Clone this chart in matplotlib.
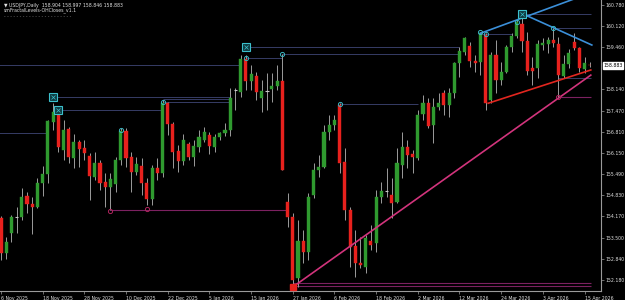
import matplotlib
matplotlib.use("Agg")
import matplotlib.pyplot as plt
import matplotlib.transforms as mtransforms
import numpy as np
import pandas as pd

# --- Daily bars USDJPY (market closed on 25 Dec and 1 Jan) ---
dates = pd.bdate_range("2025-11-06", "2026-04-16")
dates = dates[~dates.isin(pd.to_datetime(["2025-12-25", "2026-01-01"]))]

opens = [154.115, 153.011, 153.646, 154.146, 154.146, 154.802, 154.552, 154.458, 155.208, 155.490,
         157.115, 157.396, 156.240, 156.896, 155.990, 156.490, 156.302, 156.052, 155.396, 155.833,
         155.240, 155.083, 155.177, 155.927, 156.833, 156.021, 155.552, 155.740, 155.208, 154.708,
         155.677, 155.521, 157.708, 157.052, 156.208, 155.896, 156.427, 156.021, 156.333, 156.552,
         156.708, 156.333, 156.646, 156.771, 156.865, 158.115, 158.052, 159.083, 158.396, 158.552,
         157.865, 158.083, 158.146, 158.240, 158.396, 154.624, 154.146, 152.240, 153.396, 153.052,
         154.833, 155.615, 155.708, 156.802, 157.021, 157.646, 155.865, 154.365, 153.240, 152.708,
         152.583, 153.396, 153.333, 154.771, 154.958, 154.833, 154.615, 155.771, 156.333, 156.115,
         155.990, 157.365, 157.708, 157.021, 157.583, 158.021, 157.646, 158.021, 158.958, 159.302,
         159.490, 159.021, 158.990, 159.833, 157.802, 159.208, 158.427, 158.677, 159.458, 159.802,
         160.177, 159.646, 158.802, 158.802, 159.521, 159.552, 159.677, 159.552, 158.552, 158.927,
         159.615, 159.427, 158.771, 158.904]
highs = [154.177, 153.521, 154.208, 154.458, 155.052, 154.927, 154.771, 155.365, 155.740, 157.177,
         157.708, 157.490, 157.177, 156.958, 156.740, 156.552, 156.552, 156.146, 156.177, 155.927,
         155.521, 155.521, 156.021, 156.927, 156.927, 156.177, 156.021, 155.990, 155.365, 155.771,
         155.990, 157.802, 157.740, 157.115, 156.396, 156.740, 156.490, 156.552, 156.865, 156.958,
         156.802, 156.740, 156.802, 157.083, 158.177, 158.177, 159.208, 159.208, 158.896, 158.677,
         158.427, 158.646, 158.646, 158.896, 159.240, 154.896, 154.271, 154.052, 153.740, 154.896,
         155.833, 156.083, 157.021, 157.333, 157.333, 157.708, 156.302, 154.458, 153.740, 153.521,
         153.583, 153.896, 154.990, 155.240, 155.677, 155.365, 156.302, 156.802, 156.552, 156.240,
         157.490, 157.958, 157.865, 157.865, 158.021, 158.115, 158.177, 158.990, 159.458, 159.771,
         159.615, 159.208, 159.927, 159.896, 159.302, 159.677, 158.990, 159.521, 159.896, 160.333,
         160.552, 159.927, 159.146, 159.677, 159.740, 159.771, 160.052, 159.771, 159.208, 159.396,
         159.896, 159.458, 159.146, 158.997]
lows = [152.802, 152.833, 153.365, 153.646, 154.052, 154.271, 153.615, 154.427, 154.802, 155.208,
        156.865, 156.177, 155.927, 155.833, 155.677, 155.708, 155.927, 154.677, 155.302, 154.990,
        154.458, 154.365, 154.927, 155.771, 155.708, 154.927, 155.458, 154.833, 154.521, 154.521,
        155.302, 155.396, 156.708, 155.677, 155.552, 155.771, 155.927, 155.740, 156.177, 156.490,
        156.115, 156.177, 156.552, 156.677, 156.677, 157.490, 157.896, 158.115, 158.115, 157.802,
        157.427, 157.490, 157.740, 158.115, 155.615, 153.833, 151.958, 151.958, 152.708, 152.802,
        154.740, 155.396, 155.677, 156.552, 156.865, 155.521, 154.052, 152.583, 152.271, 152.552,
        152.396, 153.115, 153.052, 154.583, 154.771, 154.115, 154.583, 155.365, 155.677, 155.521,
        155.927, 157.177, 156.927, 156.458, 157.490, 157.333, 157.271, 157.865, 158.521, 159.208,
        158.833, 158.677, 158.583, 157.490, 157.708, 158.021, 158.271, 158.646, 159.302, 159.740,
        159.302, 158.583, 158.271, 158.490, 159.365, 159.271, 159.458, 157.896, 158.490, 158.802,
        159.365, 158.677, 158.646, 158.846]
closes = [153.021, 153.374, 154.146, 154.146, 154.771, 154.552, 154.458, 155.208, 155.490, 157.146,
          157.427, 156.333, 156.865, 156.021, 156.490, 156.271, 156.146, 155.427, 155.833, 155.208,
          155.083, 155.333, 155.927, 156.833, 155.990, 155.552, 155.802, 155.208, 154.708, 155.677,
          155.521, 157.708, 157.052, 156.177, 155.896, 156.552, 156.021, 156.365, 156.646, 156.811,
          156.365, 156.646, 156.771, 156.865, 157.865, 158.115, 159.083, 158.396, 158.615, 158.052,
          158.083, 158.083, 158.240, 158.396, 155.615, 154.155, 152.177, 153.396, 153.052, 154.771,
          155.615, 155.708, 156.802, 157.021, 157.177, 155.833, 154.365, 153.208, 152.708, 152.646,
          153.490, 153.271, 154.771, 154.958, 154.958, 154.583, 155.833, 156.333, 156.083, 156.021,
          157.333, 157.708, 156.990, 157.583, 157.708, 157.646, 158.021, 158.958, 159.333, 159.740,
          159.021, 158.958, 159.896, 157.708, 159.208, 158.427, 158.677, 159.458, 159.802, 160.240,
          159.646, 158.708, 158.708, 159.552, 159.583, 159.677, 159.583, 158.583, 158.927, 159.271,
          159.427, 158.802, 158.958, 158.883]

# axis labels
tick_dates = ["2025-11-06", "2025-11-18", "2025-11-28", "2025-12-10", "2025-12-22", "2026-01-05",
              "2026-01-15", "2026-01-27", "2026-02-06", "2026-02-18", "2026-03-02", "2026-03-12",
              "2026-03-24", "2026-04-03", "2026-04-15"]
price_ticks = [152.180, 152.840, 153.500, 154.170, 154.830, 155.490, 156.150, 156.810,
               157.470, 158.140, 159.460, 160.120, 160.780]
last_price = 158.883

# indicator levels (price, first bar, last bar)
level_prices = [158.896, 156.770, 157.896, 157.820, 157.740, 157.490, 159.458, 159.115,
                159.240, 157.677, 160.490, 160.050, 159.865, 158.490]
level_from = [-1, -1, 10, 31, 31, 11, 47, 47, 54, 65, 100, 106, 92, 107]
level_to = [46, 9, 44, 44, 44, 31, 88, 54, 88, 80, 113.2, 113.2, 98, 113.2]

low_prices = [154.365, 152.083, 151.990, 157.896]
low_from = [21, 56, 56, 107]
low_to = [55, 113.2, 113.2, 113.2]

# trend lines
pink_x, pink_y = [56, 113.2], [151.958, 158.58]
red_x, red_y = [93.5, 113.2], [157.70, 158.74]
blue1_x, blue1_y = [92, 111], [159.885, 161.02]
blue2_x, blue2_y = [100.2, 113.4], [160.49, 159.52]

# fractal markers
box_x = [10, 11, 47, 100]
box_y = [157.896, 157.490, 159.458, 160.490]
circle_x = [23, 31, 47, 54, 65, 92, 93, 99, 106]
circle_y = [156.865, 157.740, 159.115, 159.240, 157.677, 159.927, 159.865, 160.240, 160.050]
lowc_x = [21, 28, 107]
lowc_y = [154.33, 154.40, 157.896]
sq_x, sq_y = [56], [151.958]

BG = "black"
GREEN = "#2f9a2f"
RED = "#e8211d"
WICK = "#9c9c9c"
TXT = "#e0e0e0"
FS = 3.3

fig = plt.figure(figsize=(6.25, 3.0), dpi=100, facecolor=BG)
ax = fig.add_axes([0, 0.03, 601 / 625, 0.97], facecolor=BG)

x = np.arange(len(opens))
o, h, l, c = (np.array(v) for v in (opens, highs, lows, closes))
up, down, flat = c > o, c < o, c == o

# --- levels ---
ax.hlines(level_prices, level_from, level_to, color="#363c66", lw=0.7, zorder=1)
ax.hlines(low_prices, low_from, low_to, color="#7c2160", lw=0.8, zorder=1)

# --- candles ---
ax.vlines(x, l, h, color=WICK, lw=0.7, zorder=2)
ax.bar(x[up], (c - o)[up], bottom=o[up], width=0.6, color=GREEN,
       edgecolor=GREEN, lw=0.3, zorder=3)
ax.bar(x[down], (o - c)[down], bottom=c[down], width=0.6, color=RED,
       edgecolor=RED, lw=0.3, zorder=3)
ax.hlines(o[flat], x[flat] - 0.35, x[flat] + 0.35, color="#c8c8c8", lw=0.8, zorder=3)

# --- trend lines ---
ax.plot(pink_x, pink_y, color="#d2347c", lw=1.2, zorder=4)
ax.plot(red_x, red_y, color="#e2261f", lw=1.2, zorder=4)
ax.plot(blue1_x, blue1_y, color="#3b8fd8", lw=1.2, zorder=4)
ax.plot(blue2_x, blue2_y, color="#3b8fd8", lw=1.2, zorder=4)

# --- markers ---
ax.plot(box_x, box_y, ls="none", marker="s", ms=5.5, mfc="#0e3a40", mec="#3cc0cc",
        mew=0.8, zorder=5)
ax.plot(box_x, box_y, ls="none", marker="x", ms=3, mec="#3cc0cc", mew=0.5, zorder=6)
ax.plot(circle_x, circle_y, ls="none", marker="o", ms=3, mfc="none", mec="#3ab5c0",
        mew=0.7, zorder=5)
ax.plot(lowc_x, lowc_y, ls="none", marker="o", ms=3, mfc="none", mec="#b0245e",
        mew=0.7, zorder=5)
ax.plot(sq_x, sq_y, ls="none", marker="s", ms=4.5, mfc="#e8211d", mec="#e8211d", zorder=5)

# --- axes ---
ax.set_xlim(-0.19, 115.16)
ax.set_ylim(151.833, 160.927)
for side in ["top", "left"]:
    ax.spines[side].set_visible(False)
for side in ["right", "bottom"]:
    ax.spines[side].set_color("#9a9a9a")
    ax.spines[side].set_linewidth(0.8)

tick_pos = dates.get_indexer(pd.to_datetime(tick_dates))
ax.set_xticks(tick_pos)
ax.set_xticklabels([pd.Timestamp(d).strftime("%-d %b %Y") for d in tick_dates],
                   fontsize=FS, color=TXT, ha="left")
shift = mtransforms.ScaledTranslation(-1 / 100, 0, fig.dpi_scale_trans)
for lab in ax.get_xticklabels():
    lab.set_transform(lab.get_transform() + shift)

ax.yaxis.tick_right()
ax.set_yticks(price_ticks)
ax.set_yticklabels([f"{p:.3f}" for p in price_ticks], fontsize=FS, color=TXT)
ax.tick_params(axis="both", length=2, width=0.5, color="#9a9a9a", pad=1.5)

# current price box
ax.text(1.004, last_price, f"{last_price:.3f}", fontsize=FS, color="black",
        ha="left", va="center", transform=mtransforms.blended_transform_factory(ax.transAxes, ax.transData),
        bbox=dict(facecolor="white", edgecolor="white", pad=0.5), clip_on=False, zorder=10)

# header texts
fig.text(4 / 625, 1 - 5 / 300, "\u25bc USDJPY,Daily  158.904 158.997 158.846 158.883",
         fontsize=FS, color=TXT, va="center", ha="left")
fig.text(4 / 625, 1 - 10.5 / 300, "smFractalLevels-OHCloses_v1.1",
         fontsize=FS, color=TXT, va="center", ha="left")
fig.text(4 / 625, 1 - 16 / 300, "- " * 22, fontsize=FS, color="#8a8a8a",
         va="center", ha="left")

fig.savefig("out.png", dpi=100, facecolor=BG)
